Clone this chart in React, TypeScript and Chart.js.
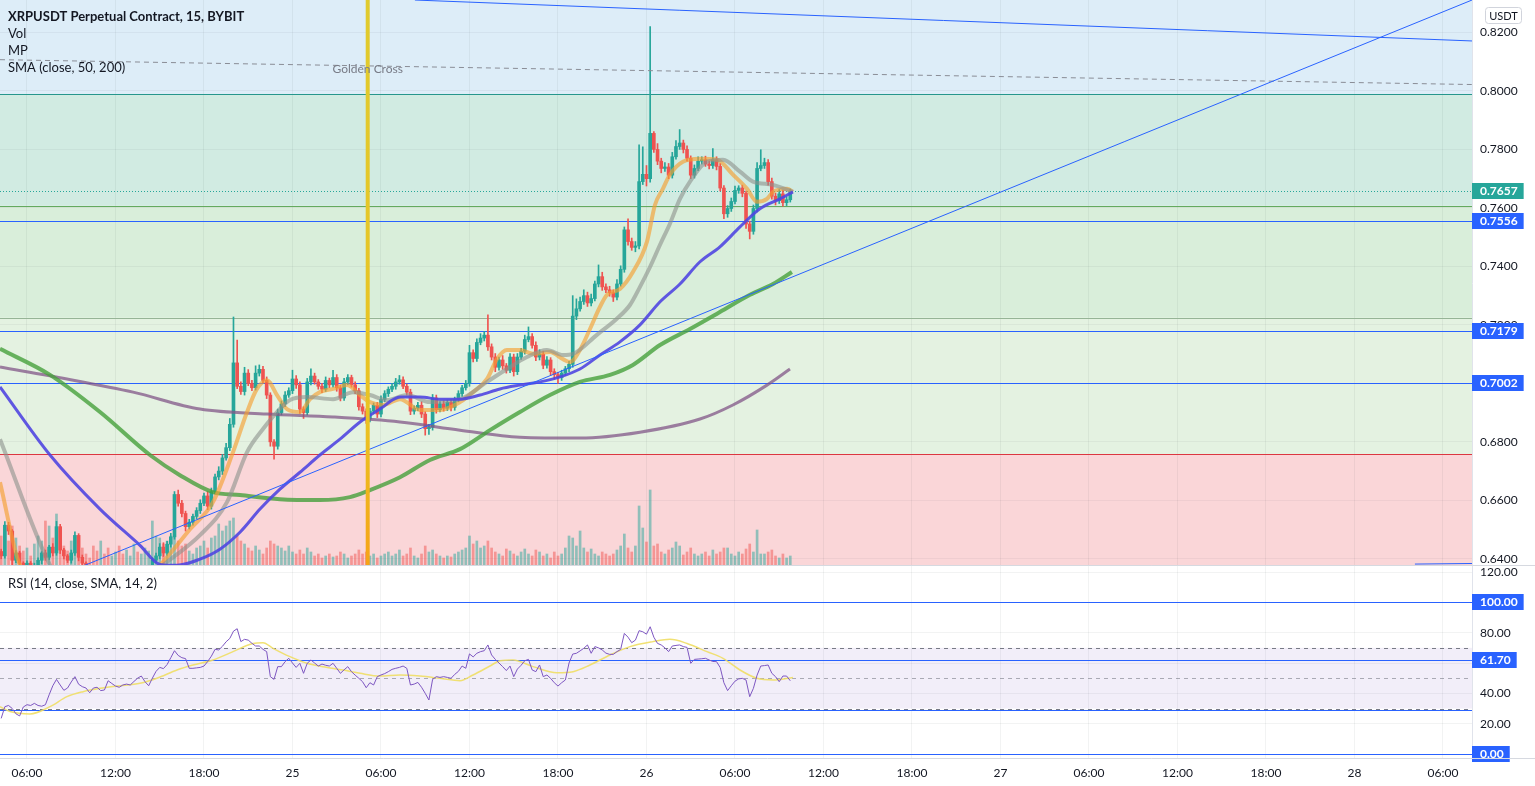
import React, { useEffect, useRef } from 'react';
import { Chart, registerables } from 'chart.js';
Chart.register(...registerables);

const FONT = "Lato, 'Noto Sans', sans-serif";
Chart.defaults.font.family = FONT;

// ---------- time axis (hours since 24th 00:00) ----------
const H_MIN = 4.17;
const H_MAX = 103.97;
const FIRST_CANDLE_HOUR = 4.25;
const CANDLE_STEP_HOURS = 0.25;

// ---------- price pane ----------
const P_MIN = 0.63754;
const P_MAX = 0.83111;
const VOL_MAX = 566;
const FIRST_OPEN = 0.6425;

const closes = [
  0.6410, 0.6515, 0.6495, 0.6395, 0.6420, 0.6385, 0.6370, 0.6385, 0.6360, 0.6375,
  0.6395, 0.6420, 0.6405, 0.6440, 0.6420, 0.6510, 0.6430, 0.6410, 0.6395, 0.6420,
  0.6480, 0.6405, 0.6385, 0.6360, 0.6345, 0.6320, 0.6300, 0.6315, 0.6290, 0.6275,
  0.6295, 0.6310, 0.6285, 0.6270, 0.6290, 0.6305, 0.6320, 0.6310, 0.6335, 0.6350,
  0.6370,
  0.6395, 0.6410, 0.6440, 0.6420, 0.6450, 0.6475, 0.6620, 0.6590, 0.6555, 0.6510,
  0.6525, 0.6545, 0.6565, 0.6590, 0.6615, 0.6580, 0.6630, 0.6680, 0.6700, 0.6745,
  0.6780, 0.6860,
  0.7070, 0.6990, 0.6972, 0.7035, 0.7000, 0.6985, 0.7035, 0.7048, 0.7010, 0.6960,
  0.6800, 0.6785, 0.6900, 0.6930, 0.6960, 0.6975, 0.7015, 0.6995,
  0.6912, 0.6900, 0.7005, 0.7025, 0.7005, 0.6990, 0.6980, 0.7010, 0.6995, 0.7020,
  0.6985, 0.6950, 0.7005, 0.7020, 0.6995, 0.6975, 0.6920, 0.6905, 0.6878, 0.6905,
  0.6925, 0.6895, 0.6945, 0.6965, 0.6980, 0.6990, 0.7005, 0.7012,
  0.6990, 0.6970, 0.6905, 0.6915, 0.6925, 0.6895, 0.6845, 0.6850, 0.6950, 0.6910,
  0.6930, 0.6915, 0.6935, 0.6918, 0.6945, 0.6965, 0.6985, 0.7000, 0.7105,
  0.7085, 0.7140, 0.7155, 0.7165, 0.7125, 0.7090, 0.7055, 0.7080, 0.7060, 0.7045,
  0.7090, 0.7040, 0.7090, 0.7110, 0.7150, 0.7160, 0.7130, 0.7090, 0.7100, 0.7062,
  0.7080, 0.7040, 0.7030, 0.7020, 0.7035, 0.7050, 0.7065,
  0.7230, 0.7255, 0.7280, 0.7300, 0.7275, 0.7290, 0.7340, 0.7365, 0.7330, 0.7320,
  0.7310, 0.7295, 0.7340, 0.7390, 0.7525, 0.7485, 0.7465, 0.7470, 0.7690,
  0.7715, 0.7700, 0.7855, 0.7800, 0.7760, 0.7735, 0.7740, 0.7712, 0.7775, 0.7810,
  0.7822, 0.7800, 0.7770, 0.7712, 0.7735, 0.7760, 0.7765, 0.7750, 0.7745, 0.7765,
  0.7742,
  0.7668, 0.7580, 0.7598, 0.7622, 0.7660, 0.7668, 0.7650, 0.7545, 0.7520, 0.7598,
  0.7735, 0.7745, 0.7755, 0.7690, 0.7640, 0.7625, 0.7648, 0.7618, 0.7628, 0.7657,
];

// wick lengths above / below the body, in 0.0001 units
const upperWicks = [
  8, 12, 10, 5, 8, 6, 5, 8, 6, 10, 8, 5, 10, 6, 12, 18, 8, 6, 5, 10,
  12, 6, 8, 5, 6, 8, 5, 10, 6, 5, 8, 6, 5, 10, 6, 8, 5, 6, 8, 10, 6,
  8, 10, 12, 15, 10, 12, 10, 15, 10, 8, 10, 8, 10, 12, 10, 15, 12, 10, 15, 12, 15, 20,
  157, 78, 15, 20, 12, 10, 25, 15, 10, 12, 8, 8, 12, 10, 12, 10, 30, 12,
  10, 8, 12, 25, 10, 8, 10, 12, 8, 25, 10, 8, 12, 10, 8, 10, 8, 10, 8, 10, 8, 10, 12, 10, 8, 10, 12, 15,
  10, 8, 10, 8, 10, 12, 8, 10, 12, 10, 8, 10, 8, 10, 8, 10, 8, 10, 25,
  10, 12, 15, 12, 69, 10, 12, 10, 15, 8, 12, 10, 12, 10, 15, 33, 10, 12, 15, 10, 12, 8, 10, 8, 10, 8, 10,
  70, 34, 15, 20, 12, 15, 10, 40, 15, 10, 12, 10, 15, 12, 10, 38, 12, 15, 126,
  94, 30, 365, 6, 20, 10, 15, 12, 15, 20, 46, 10, 12, 8, 12, 15, 10, 12, 10, 38, 10,
  10, 8, 10, 12, 15, 8, 10, 8, 10, 12, 20, 54, 15, 10, 12, 10, 15, 12, 10, 8,
];
const lowerWicks = [
  10, 8, 12, 15, 8, 10, 12, 8, 15, 10, 8, 12, 10, 8, 10, 8, 12, 10, 8, 10,
  8, 12, 10, 8, 10, 12, 8, 10, 8, 12, 10, 8, 12, 10, 8, 10, 12, 8, 10, 8, 10,
  10, 8, 10, 12, 8, 10, 8, 10, 12, 15, 8, 10, 8, 10, 8, 12, 10, 8, 10, 12, 8, 10,
  10, 8, 10, 12, 8, 10, 8, 10, 8, 12, 15, 44, 10, 8, 10, 8, 10, 12,
  15, 20, 8, 10, 8, 10, 12, 8, 10, 8, 12, 10, 8, 10, 8, 10, 12, 10, 15, 10, 8, 12, 10, 8, 10, 8, 10, 8,
  8, 10, 12, 10, 8, 12, 22, 20, 10, 12, 8, 10, 8, 12, 10, 8, 10, 8, 10,
  12, 10, 8, 10, 12, 10, 15, 10, 12, 10, 8, 15, 10, 8, 10, 8, 10, 12, 10, 12, 10, 12, 15, 20, 10, 8, 10,
  10, 12, 8, 10, 12, 10, 8, 10, 12, 10, 12, 15, 10, 8, 10, 12, 10, 15, 10,
  10, 25, 12, 10, 12, 15, 10, 12, 10, 8, 10, 12, 10, 12, 10, 8, 10, 8, 12, 10, 12,
  10, 17, 12, 10, 8, 10, 12, 15, 26, 10, 12, 8, 10, 12, 10, 15, 10, 12, 10, 8,
];

const volumes = [
  30, 37, 25, 40, 28, 20, 15, 18, 10, 22, 30, 25, 45, 40, 28, 52, 38, 20, 15, 25,
  30, 22, 18, 12, 8, 20, 15, 25, 12, 18, 10, 14, 20, 12, 16, 10, 22, 14, 12, 18, 15,
  45, 30, 28, 22, 25, 30, 35, 25, 20, 22, 15, 12, 18, 20, 25, 18, 28, 30, 42, 35, 40, 45,
  48, 30, 25, 22, 18, 15, 20, 16, 12, 18, 25, 22, 20, 18, 15, 20, 14, 12,
  16, 12, 18, 14, 10, 12, 8, 10, 12, 9, 10, 14, 12, 8, 10, 12, 16, 12, 14, 10, 12, 8, 10, 12, 14, 10, 12, 16,
  10, 12, 18, 10, 8, 12, 20, 14, 16, 12, 10, 8, 10, 9, 12, 14, 16, 18, 30,
  22, 25, 18, 20, 25, 18, 14, 12, 10, 17, 15, 12, 10, 14, 17, 12, 10, 16, 14, 10, 12, 8, 14, 10, 12, 18, 30,
  28, 20, 35, 18, 14, 17, 12, 10, 14, 12, 10, 12, 16, 20, 32, 18, 14, 20, 60,
  38, 24, 76, 20, 22, 14, 12, 16, 18, 24, 20, 11, 14, 18, 12, 10, 12, 14, 10, 16, 12,
  14, 18, 18, 12, 10, 14, 12, 17, 22, 14, 36, 12, 12, 14, 16, 10, 8, 12, 8, 10,
];

// moving averages (hour, price)
const maFastHours = [4.17, 5.53, 6.88, 9.59, 12.98, 15.02, 17.05, 18.61, 19.97, 20.92, 21.59, 22.27, 22.95, 23.63, 24.51, 25.19, 25.86, 26.75, 27.69, 28.58, 29.25, 30.14, 31.29, 32.64, 34.0, 35.36, 36.24, 37.19, 37.86, 38.54, 39.42, 40.31, 41.46, 42.34, 42.81, 43.49, 44.17, 44.85, 45.32, 46.20, 47.08, 48.03, 48.58, 49.12, 49.59, 50.47, 51.63, 52.78, 53.86, 54.81, 55.49, 56.17, 56.58, 57.53, 57.93];
const maFastPrices = [0.6662, 0.6378, 0.6330, 0.6300, 0.6285, 0.6378, 0.6501, 0.6594, 0.6765, 0.6902, 0.6981, 0.7011, 0.6960, 0.6912, 0.6902, 0.6946, 0.6970, 0.6981, 0.6994, 0.6960, 0.6936, 0.6926, 0.6946, 0.6909, 0.6909, 0.6936, 0.6970, 0.7015, 0.7083, 0.7114, 0.7114, 0.7101, 0.7107, 0.7083, 0.7073, 0.7114, 0.7186, 0.7262, 0.7303, 0.7323, 0.7381, 0.7484, 0.7611, 0.7666, 0.7714, 0.7758, 0.7768, 0.7765, 0.7714, 0.7666, 0.7621, 0.7631, 0.7655, 0.7666, 0.7655];

const maMidHours = [4.17, 7.56, 8.24, 11.63, 13.66, 15.22, 17.73, 19.56, 20.92, 22.0, 22.95, 23.83, 24.98, 26.75, 28.10, 29.25, 30.41, 31.76, 33.32, 35.36, 37.19, 38.54, 39.90, 41.25, 42.34, 43.02, 44.64, 45.97, 46.88, 47.56, 48.24, 48.92, 49.59, 50.27, 50.95, 52.10, 53.19, 54.34, 55.22, 56.58, 57.93];
const maMidPrices = [0.6809, 0.6378, 0.6330, 0.6300, 0.6310, 0.6378, 0.6481, 0.6594, 0.6765, 0.6844, 0.6902, 0.6943, 0.6953, 0.6946, 0.6970, 0.6960, 0.6943, 0.6960, 0.6936, 0.6946, 0.7005, 0.7049, 0.7090, 0.7114, 0.7097, 0.7101, 0.7166, 0.7220, 0.7268, 0.7330, 0.7398, 0.7474, 0.7546, 0.7631, 0.7690, 0.7758, 0.7765, 0.7724, 0.7690, 0.7679, 0.7655];

const sma50Hours = [4.17, 7.56, 10.95, 13.66, 15.02, 16.17, 17.73, 19.08, 20.44, 21.80, 23.15, 24.51, 25.86, 27.22, 28.58, 29.93, 31.29, 32.64, 34.0, 35.36, 36.71, 38.07, 39.42, 40.78, 42.14, 43.49, 44.85, 46.20, 47.56, 48.92, 50.27, 51.63, 52.98, 54.34, 55.69, 57.05, 57.93];
const sma50Prices = [0.6988, 0.6755, 0.6570, 0.6446, 0.6381, 0.6378, 0.6399, 0.6433, 0.6491, 0.6570, 0.6638, 0.6696, 0.6755, 0.6809, 0.6868, 0.6912, 0.6953, 0.6953, 0.6946, 0.6946, 0.6960, 0.6981, 0.6994, 0.7005, 0.7022, 0.7049, 0.7097, 0.7142, 0.7200, 0.7279, 0.7340, 0.7416, 0.7467, 0.7535, 0.7597, 0.7631, 0.7655];

const sma100Hours = [4.17, 7.56, 10.95, 14.34, 16.37, 18.61, 20.44, 23.15, 25.86, 27.90, 29.25, 31.29, 33.32, 35.36, 37.39, 39.42, 41.46, 43.49, 45.53, 47.08, 48.92, 50.95, 52.98, 55.02, 56.58, 57.86];
const sma100Prices = [0.7118, 0.7029, 0.6902, 0.6755, 0.6686, 0.6628, 0.6618, 0.6604, 0.6601, 0.6611, 0.6635, 0.6679, 0.6738, 0.6775, 0.6840, 0.6902, 0.6960, 0.7005, 0.7029, 0.7063, 0.7131, 0.7186, 0.7244, 0.7303, 0.7340, 0.7381];

const sma200Hours = [4.17, 8.71, 13.19, 17.73, 22.27, 26.75, 31.29, 35.36, 39.42, 43.49, 47.56, 51.63, 53.86, 56.17, 57.73];
const sma200Prices = [0.7056, 0.7015, 0.6970, 0.6912, 0.6895, 0.6885, 0.6868, 0.6840, 0.6816, 0.6813, 0.6833, 0.6878, 0.6926, 0.6994, 0.7049];

// drawings
const fibLevels = [0.7988, 0.7607, 0.7224, 0.6758];
const hLines = [0.7556, 0.7179, 0.7002];
const lastPrice = 0.7657;
const goldenCrossHour = 29.1;
const dashedLineHours = [H_MIN, H_MAX];
const dashedLinePrices = [0.8107, 0.8022];
const downTrendHours = [32.3, H_MAX];
const downTrendPrices = [0.8311, 0.8171];
const upTrendHours = [9.59, H_MAX];
const upTrendPrices = [0.6371, 0.8311];
const bottomLineHours = [100.1, H_MAX];
const bottomLinePrices = [0.6382, 0.6384];

// ---------- RSI pane ----------
const R_MIN = -2.634;
const R_MAX = 123.956;
const rsiValues = [
  23.5, 31.2, 32.0, 30.0, 26.5, 25.1, 31.0, 32.5, 32.0, 33.4,
  32.0, 31.5, 32.5, 39.0, 45.0, 49.2, 45.5, 42.0, 43.5, 47.5,
  51.0, 46.0, 44.4, 43.5, 40.4, 43.5, 44.0, 41.8, 42.2, 48.3,
  46.5, 44.8, 44.0, 45.5, 46.1, 45.5, 47.8, 50.0, 51.4, 47.7,
  45.0, 50.0, 54.5, 57.1, 56.3, 59.0, 63.5, 68.1, 65.0, 63.5,
  62.9, 56.5, 56.5, 56.8, 57.1, 58.0, 61.0, 64.5, 69.0, 68.6,
  71.0, 74.0, 76.2, 81.0, 82.6, 74.1, 75.6, 75.1, 73.0, 71.2,
  71.2, 69.0, 67.5, 51.0, 49.2, 57.6, 57.6, 60.9, 63.1, 60.0,
  57.1, 59.8, 53.2, 59.8, 62.0, 60.0, 58.0, 59.3, 58.5, 58.0,
  59.8, 56.5, 53.2, 55.5, 57.6, 54.3, 52.0, 49.9, 47.7, 43.7,
  47.0, 45.5, 51.0, 52.1, 53.0, 54.3, 55.8, 56.5, 57.1, 58.0,
  56.5, 45.5, 46.1, 47.2, 44.0, 40.0, 35.6, 49.2, 51.0, 50.5,
  51.0, 50.5, 49.9, 52.5, 54.5, 58.0, 56.5, 66.0, 64.0, 66.4,
  67.5, 68.1, 71.9, 65.3, 62.4, 60.0, 57.6, 55.0, 58.0, 51.0,
  56.0, 58.5, 61.5, 62.4, 55.4, 54.3, 58.7, 51.0, 52.1, 49.9,
  47.0, 44.8, 47.0, 48.8, 60.0, 65.9, 66.4, 68.0, 69.7, 71.9,
  66.4, 70.8, 70.0, 68.6, 66.5, 65.7, 65.7, 67.5, 69.0, 79.5,
  77.0, 73.4, 75.1, 81.3, 80.6, 79.0, 83.9, 77.0, 72.9, 71.9,
  70.0, 67.5, 71.2, 71.6, 71.9, 70.8, 70.3, 59.8, 62.4, 62.6,
  62.8, 63.1, 62.0, 61.0, 60.9, 57.0, 47.0, 41.8, 45.0, 48.0,
  49.5, 49.9, 48.8, 37.8, 43.3, 52.0, 58.0, 58.3, 58.7, 53.2,
  51.0, 47.7, 51.4, 51.4, 48.3,
];
const rsiSmaHours = [4.17, 4.85, 6.20, 7.56, 8.71, 9.80, 10.95, 12.10, 13.66, 14.81, 16.17, 17.25, 18.61, 19.97, 21.32, 22.0, 22.68, 23.83, 24.98, 26.07, 27.42, 28.58, 29.93, 31.29, 32.64, 34.0, 35.36, 36.24, 37.39, 38.07, 38.95, 40.31, 41.93, 43.02, 44.17, 45.53, 46.88, 48.44, 49.59, 50.75, 52.10, 53.19, 54.34, 55.49, 56.58, 57.93];
const rsiSmaValues = [31.2, 28.0, 26.4, 31.2, 37.8, 41.1, 43.3, 44.8, 46.6, 49.9, 55.4, 58.7, 62.0, 67.5, 72.9, 73.4, 69.7, 64.2, 59.8, 57.6, 55.4, 53.2, 51.4, 52.1, 51.4, 49.9, 48.3, 52.1, 58.0, 61.5, 62.0, 57.6, 53.6, 54.3, 58.7, 65.3, 70.8, 74.1, 75.6, 72.9, 67.5, 63.1, 55.4, 49.9, 48.8, 50.5];
const rsiBand = [70, 30];
const rsiMid = 50;
const rsiHLines = [100, 61.7, 29.0, 0];
const rsiBoxes = [100, 61.7, 0];

// ---------- styles ----------
const UP = '#26a69a';
const DOWN = '#ef5350';
const BLUE = '#2962ff';
const zoneFills = ['rgb(221,237,248)', 'rgb(209,235,226)', 'rgb(217,238,218)', 'rgb(228,242,225)', 'rgb(250,214,216)'];
const zoneLines = ['rgb(38,150,140)', 'rgb(100,170,95)', 'rgb(150,180,150)', 'rgb(220,55,65)'];

const pts = (xs: number[], ys: number[]) => xs.map((x, i) => ({ x, y: ys[i] }));

function fmtHour(v: number) {
  const h = Math.round(v);
  if (h % 24 === 0) return String(24 + h / 24);
  const hh = h % 24;
  return (hh < 10 ? '0' : '') + hh + ':00';
}

function drawBox(ctx: CanvasRenderingContext2D, x0: number, yc: number, text: string, bg: string) {
  ctx.font = `bold 12px ${FONT}`;
  const w = ctx.measureText(text).width;
  ctx.fillStyle = bg;
  ctx.fillRect(x0, Math.round(yc) - 8, w + 14, 16);
  ctx.fillStyle = '#ffffff';
  ctx.textAlign = 'left';
  ctx.textBaseline = 'middle';
  ctx.fillText(text, x0 + 8, Math.round(yc) + 0.5);
}

function hLine(ctx: CanvasRenderingContext2D, a: any, y: number, color: string, dash: number[] = []) {
  ctx.save();
  ctx.strokeStyle = color;
  ctx.lineWidth = 1;
  ctx.setLineDash(dash);
  ctx.beginPath();
  const yy = Math.round(y) + 0.5;
  ctx.moveTo(a.left, yy);
  ctx.lineTo(a.right, yy);
  ctx.stroke();
  ctx.restore();
}

const noPad = (s: any) => {
  s.paddingTop = 0;
  s.paddingBottom = 0;
  s.paddingLeft = 0;
  s.paddingRight = 0;
};

export default function App() {
  const topRef = useRef<HTMLCanvasElement>(null);
  const botRef = useRef<HTMLCanvasElement>(null);

  useEffect(() => {
    document.body.style.margin = '0';
    const hours = closes.map((_, i) => FIRST_CANDLE_HOUR + i * CANDLE_STEP_HOURS);
    const opens = closes.map((c, i) => (i === 0 ? FIRST_OPEN : closes[i - 1]));
    const highs = closes.map((c, i) => Math.max(opens[i], c) + upperWicks[i] / 10000);
    const lows = closes.map((c, i) => Math.min(opens[i], c) - lowerWicks[i] / 10000);
    const isUp = closes.map((c, i) => c >= opens[i]);
    const candleColors = isUp.map((u) => (u ? UP : DOWN));
    const volColors = isUp.map((u) => (u ? 'rgba(38,166,154,0.5)' : 'rgba(239,83,80,0.5)'));

    const mainPlugin = {
      id: 'mainDeco',
      beforeDraw(chart: any) {
        const { ctx, chartArea: a, scales } = chart;
        const ys = scales.y;
        ctx.save();
        ctx.fillStyle = '#ffffff';
        ctx.fillRect(0, 0, chart.width, chart.height);
        let prev = a.top;
        for (let k = 0; k < zoneFills.length; k++) {
          const yb = k < fibLevels.length ? ys.getPixelForValue(fibLevels[k]) : a.bottom;
          ctx.fillStyle = zoneFills[k];
          ctx.fillRect(a.left, prev, a.right - a.left, yb - prev);
          prev = yb;
        }
        ctx.restore();
      },
      beforeDatasetsDraw(chart: any) {
        const { ctx, chartArea: a, scales } = chart;
        const ys = scales.y;
        fibLevels.forEach((lv, k) => hLine(ctx, a, ys.getPixelForValue(lv), zoneLines[k]));
        hLines.forEach((lv) => hLine(ctx, a, ys.getPixelForValue(lv), BLUE));
        hLine(ctx, a, ys.getPixelForValue(lastPrice), UP, [1, 2]);
      },
      afterDatasetsDraw(chart: any) {
        const { ctx, chartArea: a, scales } = chart;
        const x = scales.x.getPixelForValue(goldenCrossHour);
        ctx.save();
        const g = ctx.createLinearGradient(0, a.top, 0, a.bottom);
        g.addColorStop(0, '#e0cb2e');
        g.addColorStop(0.75, '#eac222');
        g.addColorStop(1, '#f6a317');
        ctx.fillStyle = g;
        ctx.fillRect(x - 2, a.top, 4, a.bottom - a.top);
        ctx.font = `12px ${FONT}`;
        ctx.fillStyle = '#787b86';
        ctx.textAlign = 'center';
        ctx.textBaseline = 'middle';
        ctx.fillText('Golden Cross', x, 69);
        ctx.restore();
      },
      afterDraw(chart: any) {
        const { ctx, chartArea: a, scales } = chart;
        const ys = scales.y;
        ctx.save();
        drawBox(ctx, a.right, ys.getPixelForValue(lastPrice), lastPrice.toFixed(4), UP);
        hLines.forEach((lv) => drawBox(ctx, a.right, ys.getPixelForValue(lv), lv.toFixed(4), BLUE));
        // currency box
        ctx.strokeStyle = '#d1d4dc';
        ctx.lineWidth = 1;
        ctx.beginPath();
        (ctx as any).roundRect(1485.5, 7.5, 36, 16, 3);
        ctx.fillStyle = '#ffffff';
        ctx.fill();
        ctx.stroke();
        ctx.fillStyle = '#131722';
        ctx.font = `11px ${FONT}`;
        ctx.textAlign = 'center';
        ctx.textBaseline = 'middle';
        ctx.fillText('USDT', 1503.5, 16);
        // legend
        ctx.textAlign = 'left';
        ctx.font = `bold 13px ${FONT}`;
        ctx.fillText('XRPUSDT Perpetual Contract, 15, BYBIT', 8, 17);
        ctx.font = `13px ${FONT}`;
        ctx.fillText('Vol', 8, 34);
        ctx.fillText('MP', 8, 51);
        ctx.fillText('SMA (close, 50, 200)', 8, 68);
        // pane separator
        ctx.strokeStyle = '#d6d9e0';
        ctx.beginPath();
        ctx.moveTo(0, chart.height - 0.5);
        ctx.lineTo(chart.width, chart.height - 0.5);
        ctx.stroke();
        ctx.restore();
      },
    };

    const lineDs = (data: any[], color: string, width: number, order: number, extra: any = {}) => ({
      type: 'line',
      data,
      borderColor: color,
      borderWidth: width,
      pointRadius: 0,
      fill: false,
      cubicInterpolationMode: 'monotone',
      order,
      yAxisID: 'y',
      ...extra,
    });

    const c1 = new Chart(topRef.current as HTMLCanvasElement, {
      type: 'line',
      data: {
        datasets: [
          lineDs(pts(upTrendHours, upTrendPrices), BLUE, 1, 1, { cubicInterpolationMode: 'default', tension: 0 }),
          lineDs(pts(downTrendHours, downTrendPrices), BLUE, 1, 1, { cubicInterpolationMode: 'default', tension: 0 }),
          lineDs(pts(bottomLineHours, bottomLinePrices), BLUE, 1, 1, { cubicInterpolationMode: 'default', tension: 0 }),
          lineDs(pts(dashedLineHours, dashedLinePrices), '#8a8d96', 1, 2, { cubicInterpolationMode: 'default', tension: 0, borderDash: [5, 4] }),
          lineDs(pts(sma50Hours, sma50Prices), 'rgba(80,70,225,0.9)', 3, 3),
          lineDs(pts(maMidHours, maMidPrices), 'rgba(140,145,140,0.6)', 4, 4),
          lineDs(pts(maFastHours, maFastPrices), 'rgba(245,160,50,0.65)', 4, 5),
          lineDs(pts(sma100Hours, sma100Prices), 'rgba(70,160,60,0.8)', 4, 6),
          lineDs(pts(sma200Hours, sma200Prices), 'rgba(130,85,135,0.75)', 3, 7),
          {
            type: 'bar',
            data: hours.map((h, i) => ({ x: h, y: [opens[i], closes[i]] })),
            backgroundColor: candleColors,
            barThickness: 3,
            minBarLength: 1,
            grouped: false,
            borderWidth: 0,
            order: 8,
            yAxisID: 'y',
          },
          {
            type: 'bar',
            data: hours.map((h, i) => ({ x: h, y: [lows[i], highs[i]] })),
            backgroundColor: candleColors,
            barThickness: 1,
            grouped: false,
            borderWidth: 0,
            order: 9,
            yAxisID: 'y',
          },
          {
            type: 'bar',
            data: hours.map((h, i) => ({ x: h, y: volumes[i] })),
            backgroundColor: volColors,
            barThickness: 2,
            grouped: false,
            borderWidth: 0,
            order: 10,
            yAxisID: 'vol',
          },
        ] as any,
      },
      options: {
        responsive: false,
        animation: false,
        devicePixelRatio: 1,
        events: [],
        layout: { padding: 0, autoPadding: false },
        plugins: { legend: { display: false }, tooltip: { enabled: false } },
        scales: {
          x: {
            type: 'linear',
            min: H_MIN,
            max: H_MAX,
            offset: false,
            grid: { color: 'rgba(42,46,57,0.06)', drawTicks: false, offset: false },
            border: { display: false },
            ticks: { display: false, stepSize: 6, includeBounds: false },
            afterFit: (s: any) => { noPad(s); s.height = 0; },
          },
          y: {
            position: 'right',
            min: P_MIN,
            max: P_MAX,
            grid: { color: 'rgba(42,46,57,0.05)', drawTicks: false },
            border: { display: true, color: '#e0e3eb' },
            ticks: {
              stepSize: 0.02,
              includeBounds: false,
              padding: 8,
              color: '#131722',
              font: { size: 12, family: FONT },
              callback: (v: any) => Number(v).toFixed(4),
            },
            afterFit: (s: any) => { noPad(s); s.width = 63; },
          },
          vol: { display: false, min: 0, max: VOL_MAX },
        },
      } as any,
      plugins: [mainPlugin],
    } as any);

    const rsiPlugin = {
      id: 'rsiDeco',
      beforeDraw(chart: any) {
        const { ctx } = chart;
        ctx.save();
        ctx.fillStyle = '#ffffff';
        ctx.fillRect(0, 0, chart.width, chart.height);
        ctx.restore();
      },
      beforeDatasetsDraw(chart: any) {
        const { ctx, chartArea: a, scales } = chart;
        const ys = scales.y;
        const y1 = ys.getPixelForValue(rsiBand[0]);
        const y2 = ys.getPixelForValue(rsiBand[1]);
        ctx.save();
        ctx.fillStyle = 'rgba(126,87,194,0.1)';
        ctx.fillRect(a.left, y1, a.right - a.left, y2 - y1);
        ctx.restore();
        hLine(ctx, a, y1, '#787b86', [4, 4]);
        hLine(ctx, a, y2, '#787b86', [4, 4]);
        hLine(ctx, a, ys.getPixelForValue(rsiMid), 'rgba(120,123,134,0.6)', [4, 4]);
        rsiHLines.forEach((v) => hLine(ctx, a, ys.getPixelForValue(v), BLUE));
      },
      afterDraw(chart: any) {
        const { ctx, chartArea: a, scales } = chart;
        const ys = scales.y;
        ctx.save();
        rsiBoxes.forEach((v) => drawBox(ctx, a.right, ys.getPixelForValue(v), v.toFixed(2), BLUE));
        ctx.fillStyle = '#131722';
        ctx.font = `13px ${FONT}`;
        ctx.textAlign = 'left';
        ctx.textBaseline = 'middle';
        ctx.fillText('RSI (14, close, SMA, 14, 2)', 8, 18);
        ctx.strokeStyle = '#d6d9e0';
        ctx.lineWidth = 1;
        ctx.beginPath();
        ctx.moveTo(0, a.bottom + 0.5);
        ctx.lineTo(chart.width, a.bottom + 0.5);
        ctx.stroke();
        ctx.restore();
      },
    };

    const c2 = new Chart(botRef.current as HTMLCanvasElement, {
      type: 'line',
      data: {
        datasets: [
          {
            data: pts(hours, rsiValues),
            borderColor: '#7e57c2',
            borderWidth: 1,
            pointRadius: 0,
            tension: 0,
            order: 1,
          },
          {
            data: pts(rsiSmaHours, rsiSmaValues),
            borderColor: 'rgba(240,222,100,0.9)',
            borderWidth: 1.5,
            pointRadius: 0,
            cubicInterpolationMode: 'monotone',
            order: 2,
          },
        ] as any,
      },
      options: {
        responsive: false,
        animation: false,
        devicePixelRatio: 1,
        events: [],
        layout: { padding: 0, autoPadding: false },
        plugins: { legend: { display: false }, tooltip: { enabled: false } },
        scales: {
          x: {
            type: 'linear',
            min: H_MIN,
            max: H_MAX,
            offset: false,
            grid: { color: 'rgba(42,46,57,0.06)', drawTicks: false, offset: false },
            border: { display: false },
            ticks: {
              stepSize: 6,
              includeBounds: false,
              autoSkip: false,
              maxRotation: 0,
              padding: 8,
              color: '#131722',
              font: { size: 12, family: FONT },
              callback: (v: any) => fmtHour(Number(v)),
            },
            afterFit: (s: any) => { noPad(s); s.height = 28; },
          },
          y: {
            position: 'right',
            min: R_MIN,
            max: R_MAX,
            grid: { color: 'rgba(42,46,57,0.06)', drawTicks: false },
            border: { display: true, color: '#e0e3eb' },
            ticks: {
              stepSize: 20,
              includeBounds: false,
              padding: 8,
              color: '#131722',
              font: { size: 12, family: FONT },
              callback: (v: any) => (Math.round(Number(v)) === 60 ? '' : Number(v).toFixed(2)),
            },
            afterFit: (s: any) => { noPad(s); s.width = 63; },
          },
        },
      } as any,
      plugins: [rsiPlugin],
    } as any);

    return () => {
      c1.destroy();
      c2.destroy();
    };
  }, []);

  return (
    <div style={{ position: 'relative', width: 1535, height: 786, background: '#ffffff', overflow: 'hidden' }}>
      <canvas ref={topRef} width={1535} height={566} style={{ position: 'absolute', left: 0, top: 0 }} />
      <canvas ref={botRef} width={1535} height={220} style={{ position: 'absolute', left: 0, top: 566 }} />
    </div>
  );
}
